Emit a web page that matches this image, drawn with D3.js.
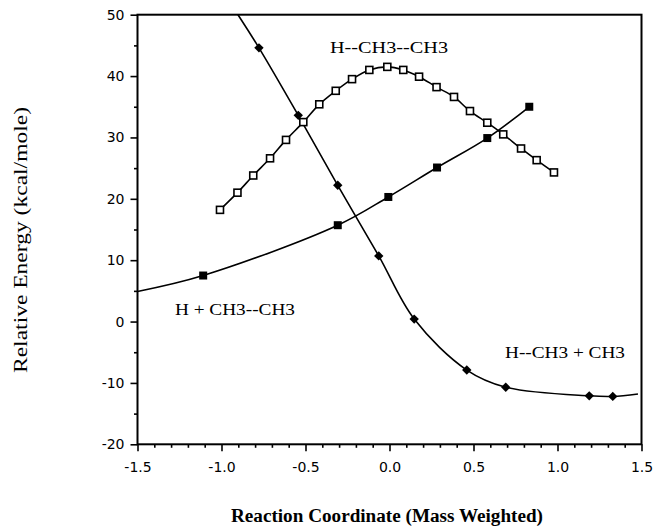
<!DOCTYPE html>
<html>
<head>
<meta charset="utf-8">
<script src="https://cdn.jsdelivr.net/npm/d3@7"></script>
<style>
  body { margin: 0; background: #fff; }
  svg { display: block; }
</style>
</head>
<body>
<div id="chart"></div>
<script>
// product channel H--CH3 + CH3 (filled diamonds)
const productX = [-0.777, -0.543, -0.308, -0.064, 0.147, 0.460, 0.692, 1.189, 1.329];
const productY = [44.6, 33.6, 22.2, 10.7, 0.4, -7.9, -10.7, -12.1, -12.2];
const productStart = [-0.902, 50];
const productEnd = [1.479, -11.8];

// saddle H--CH3--CH3 (open squares)
const saddleX = [-1.009, -0.905, -0.811, -0.711, -0.616, -0.513, -0.418, -0.320, -0.223, -0.120, -0.013,
  0.082, 0.176, 0.280, 0.384, 0.479, 0.582, 0.677, 0.783, 0.876, 0.979];
const saddleY = [18.2, 21.0, 23.8, 26.6, 29.6, 32.5, 35.4, 37.6, 39.5, 41.0, 41.5,
  41.0, 39.9, 38.2, 36.6, 34.3, 32.4, 30.5, 28.2, 26.3, 24.3];

// reactant channel H + CH3--CH3 (filled squares)
const reactantX = [-1.109, -0.308, -0.007, 0.283, 0.582, 0.832];
const reactantY = [7.5, 15.7, 20.3, 25.1, 29.9, 35.0];
const reactantStart = [-1.5, 4.9];

const xTicks = [-1.5, -1.0, -0.5, 0.0, 0.5, 1.0, 1.5];
const xMinor = [-1.4, -1.3, -1.2, -1.1, -0.9, -0.8, -0.7, -0.6, -0.4, -0.3, -0.2, -0.1,
  0.1, 0.2, 0.3, 0.4, 0.6, 0.7, 0.8, 0.9, 1.1, 1.2, 1.3, 1.4];
const yTicks = [-20, -10, 0, 10, 20, 30, 40, 50];
const yMinor = [-15, -5, 5, 15, 25, 35, 45];

const labels = [
  { text: 'H--CH3--CH3', x: -0.354, y: 43.7, len: 118 },
  { text: 'H + CH3--CH3', x: -1.277, y: 1.1, len: 120 },
  { text: 'H--CH3 + CH3', x: 0.6875, y: -6.0, len: 120 }
];

const width = 653, height = 531;
const frame = { left: 137.5, right: 641.5, top: 14.7, bottom: 444.3 };

const svg = d3.select('#chart').append('svg')
  .attr('width', width)
  .attr('height', height);

const x = d3.scaleLinear().domain([-1.5, 1.5]).range([frame.left, frame.right]);
const y = d3.scaleLinear().domain([-20, 50]).range([frame.bottom, frame.top]);

svg.append('clipPath').attr('id', 'plotClip')
  .append('rect')
  .attr('x', frame.left).attr('y', frame.top)
  .attr('width', frame.right - frame.left).attr('height', frame.bottom - frame.top);

// axes
const yAxis = svg.append('g')
  .attr('transform', `translate(${frame.left},0)`)
  .call(d3.axisLeft(y).tickValues(yTicks).tickSize(7).tickPadding(6).tickFormat(d => String(d)));
const yAxisMinor = svg.append('g')
  .attr('transform', `translate(${frame.left},0)`)
  .call(d3.axisLeft(y).tickValues(yMinor).tickSize(3.5).tickFormat(''));
const xAxis = svg.append('g')
  .attr('transform', `translate(0,${frame.bottom})`)
  .call(d3.axisBottom(x).tickValues(xTicks).tickSize(7).tickPadding(11).tickFormat(d => d.toFixed(1)));
const xAxisMinor = svg.append('g')
  .attr('transform', `translate(0,${frame.bottom})`)
  .call(d3.axisBottom(x).tickValues(xMinor).tickSize(3.5).tickFormat(''));

[yAxis, yAxisMinor, xAxis, xAxisMinor].forEach(a => {
  a.select('.domain').remove();
  a.selectAll('line').attr('stroke', '#000').attr('stroke-width', 1.6);
  a.selectAll('text')
    .attr('fill', '#000')
    .attr('font-family', 'DejaVu Sans')
    .attr('font-size', 14);
});

svg.append('rect')
  .attr('x', frame.left).attr('y', frame.top)
  .attr('width', frame.right - frame.left).attr('height', frame.bottom - frame.top)
  .attr('fill', 'none')
  .attr('stroke', '#000')
  .attr('stroke-width', 2);

// curves
const line = d3.line()
  .x(d => x(d[0]))
  .y(d => y(d[1]))
  .curve(d3.curveCatmullRom.alpha(0.5));

const productPts = productX.map((v, i) => [v, productY[i]]);
const saddlePts = saddleX.map((v, i) => [v, saddleY[i]]);
const reactantPts = reactantX.map((v, i) => [v, reactantY[i]]);

const plot = svg.append('g').attr('clip-path', 'url(#plotClip)');

[[productStart, ...productPts, productEnd], saddlePts, [reactantStart, ...reactantPts]].forEach(pts => {
  plot.append('path')
    .datum(pts)
    .attr('d', line)
    .attr('fill', 'none')
    .attr('stroke', '#000')
    .attr('stroke-width', 1.6);
});

// markers
plot.selectAll('.diamond')
  .data(productPts)
  .join('path')
  .attr('class', 'diamond')
  .attr('d', d3.symbol(d3.symbolSquare, 44))
  .attr('transform', d => `translate(${x(d[0])},${y(d[1])}) rotate(45)`)
  .attr('fill', '#000');

plot.selectAll('.open')
  .data(saddlePts)
  .join('rect')
  .attr('class', 'open')
  .attr('x', d => x(d[0]) - 3.5)
  .attr('y', d => y(d[1]) - 3.5)
  .attr('width', 7).attr('height', 7)
  .attr('fill', '#fff')
  .attr('stroke', '#000')
  .attr('stroke-width', 1.6);

plot.selectAll('.filled')
  .data(reactantPts)
  .join('rect')
  .attr('class', 'filled')
  .attr('x', d => x(d[0]) - 4)
  .attr('y', d => y(d[1]) - 4)
  .attr('width', 8).attr('height', 8)
  .attr('fill', '#000');

// curve labels
svg.selectAll('.curveLabel')
  .data(labels)
  .join('text')
  .attr('class', 'curveLabel')
  .attr('x', d => x(d.x))
  .attr('y', d => y(d.y))
  .attr('font-family', 'Liberation Serif')
  .attr('font-size', 16)
  .attr('textLength', d => d.len)
  .attr('lengthAdjust', 'spacingAndGlyphs')
  .text(d => d.text);

// axis titles
svg.append('text')
  .attr('transform', 'translate(27,240) rotate(-90)')
  .attr('text-anchor', 'middle')
  .attr('font-family', 'Liberation Serif')
  .attr('font-size', 18)
  .attr('textLength', 266)
  .attr('lengthAdjust', 'spacingAndGlyphs')
  .text('Relative Energy (kcal/mole)');

svg.append('text')
  .attr('x', 387)
  .attr('y', 521.5)
  .attr('text-anchor', 'middle')
  .attr('font-family', 'Liberation Serif')
  .attr('font-weight', 'bold')
  .attr('font-size', 18)
  .attr('textLength', 312)
  .attr('lengthAdjust', 'spacingAndGlyphs')
  .text('Reaction Coordinate (Mass Weighted)');
</script>
</body>
</html>
